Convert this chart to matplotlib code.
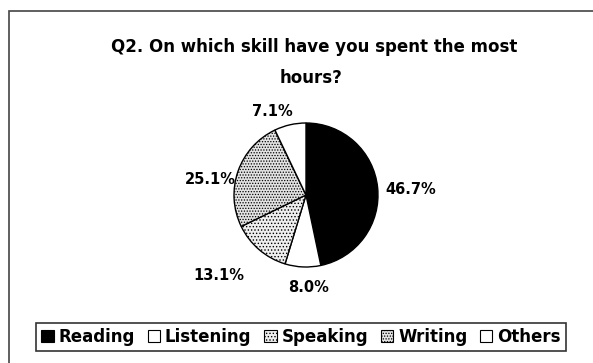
import matplotlib.pyplot as plt
import matplotlib.patches as mpatches
import numpy as np

skills = ['Reading', 'Listening', 'Speaking', 'Writing', 'Others']
shares = [46.7, 8.0, 13.1, 25.1, 7.1]
colors = ['black', 'white', '#eeeeee', '#e2e2e2', 'white']
hatches = [None, None, '.....', '......', None]
# where each percentage sits: distance from centre (radii) and angle nudge (deg)
label_dist = [1.45, 1.29, 1.65, 1.35, 1.25]
label_shift = [-3, 4, -7, 10, 9]

plt.rcParams['font.family'] = ['DejaVu Sans']
plt.rcParams['hatch.color'] = '#8a8a8a'
plt.rcParams['hatch.linewidth'] = 0.6

fig = plt.figure(figsize=(5.93, 3.63), dpi=100)

# outer frame (right and bottom edges run off the scan)
fig.patches.append(mpatches.Rectangle((9 / 593, -0.05), 1.0, 1 - 11 / 363 + 0.05,
                                      transform=fig.transFigure, fill=False,
                                      edgecolor='#444444', linewidth=1.2))

fig.text(314 / 593, 1 - 47 / 363, 'Q2. On which skill have you spent the most',
         ha='center', va='center', fontsize=12, fontweight='bold')
fig.text(311 / 593, 1 - 78 / 363, 'hours?', ha='center', va='center',
         fontsize=12, fontweight='bold')

ax = fig.add_axes([(306 - 72) / 593, (363 - 195 - 72) / 363, 144 / 593, 144 / 363])
wedges, texts, autotexts = ax.pie(shares, colors=colors, startangle=90, counterclock=False,
                                  autopct='%1.1f%%', pctdistance=1.4,
                                  wedgeprops=dict(edgecolor='black', linewidth=1.0))
for w, h in zip(wedges, hatches):
    if h:
        w.set_hatch(h)
for w, t, d, s in zip(wedges, autotexts, label_dist, label_shift):
    ang = np.deg2rad((w.theta1 + w.theta2) / 2 + s)
    t.set_position((d * np.cos(ang), d * np.sin(ang)))
    t.set_fontsize(10.5)
    t.set_fontweight('bold')
    t.set_color('black')
ax.set_xlim(-1, 1)
ax.set_ylim(-1, 1)
ax.set_aspect('equal')

handles = [mpatches.Patch(facecolor=c, edgecolor='black', hatch=h, linewidth=0.8)
           for c, h in zip(colors, hatches)]
leg = fig.legend(handles, skills, loc='center', bbox_to_anchor=(301 / 593, 1 - 337 / 363),
                 ncol=5, frameon=True, fancybox=False, edgecolor='black',
                 handlelength=0.75, handleheight=0.75, handletextpad=0.3,
                 columnspacing=0.75, borderpad=0.3, borderaxespad=0.2,
                 prop={'weight': 'bold', 'size': 12})
leg.get_frame().set_linewidth(1.2)

fig.savefig('out.png', dpi=100)
